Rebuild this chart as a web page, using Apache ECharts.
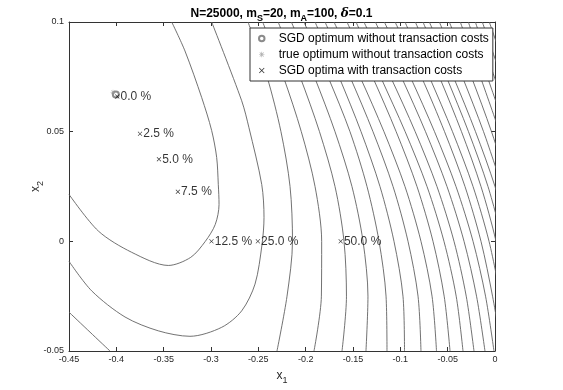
<!DOCTYPE html>
<html><head><meta charset="utf-8">
<script src="https://cdn.jsdelivr.net/npm/echarts@6/dist/echarts.min.js"></script>
<style>html,body{margin:0;padding:0;background:#fff}#c{width:563px;height:390px}</style>
</head><body><div id="c"></div>
<script>
// ---- data ----
const xTickMin = -0.45, xTickMax = 0, xTickStep = 0.05;
const yTickMin = -0.05, yTickMax = 0.1, yTickStep = 0.05;

const sgdOptimum = [[-0.4005, 0.067]];
const trueOptimum = [[-0.4035, 0.068]];
const tcOptimaX = [-0.399, -0.375, -0.355, -0.335, -0.2995, -0.2505, -0.163];
const tcOptimaY = [0.066, 0.049, 0.0374, 0.0226, 0, 0, 0];
const tcLabels = ['0.0 %', '2.5 %', '5.0 %', '7.5 %', '12.5 %', '25.0 %', '50.0 %'];

// closed-ish inner contour lines, [x1, x2] points
const contour1 = [[-0.3415,0.1],[-0.3275,0.0868],[-0.3098,0.0655],[-0.2993,0.0505],[-0.294,0.0382],[-0.2923,0.026],[-0.2915,0.0168],[-0.2955,0.0077],[-0.306,0],[-0.3214,-0.0073],[-0.3451,-0.011],[-0.3838,-0.005],[-0.419,0.0047],[-0.45,0.0214]];
const contour2 = [[-0.2993,0.1],[-0.2676,0.0641],[-0.2599,0.0518],[-0.2464,0.0259],[-0.244,0.0109],[-0.2461,-0.0014],[-0.2535,-0.0195],[-0.2676,-0.0317],[-0.2887,-0.0392],[-0.3222,-0.0433],[-0.3557,-0.0408],[-0.3908,-0.0345],[-0.426,-0.0226],[-0.45,-0.0091]];
const contour3Corner = [[-0.45,-0.0323],[-0.4278,-0.0414],[-0.4067,-0.05]];

// open contour lines: x1 where each line crosses these x2 rows
const crossRowY = [0.1, 0.075, 0.05, 0.025, 0, -0.025, -0.05];
const crossContourX = [
  [-0.2609,-0.2408,-0.2261,-0.2165,-0.2139,-0.2197,-0.2303],
  [-0.2454,-0.2235,-0.2046,-0.1901,-0.1831,-0.1834,-0.1912],
  [-0.2291,-0.2059,-0.1854,-0.169,-0.1595,-0.1569,-0.1616],
  [-0.2151,-0.1908,-0.169,-0.1511,-0.1394,-0.1342,-0.1363],
  [-0.2018,-0.1764,-0.1532,-0.1352,-0.1225,-0.1151,-0.1141],
  [-0.1901,-0.1648,-0.1415,-0.1215,-0.1067,-0.0972,-0.0956],
  [-0.1796,-0.1532,-0.1289,-0.1077,-0.0919,-0.0813,-0.0782],
  [-0.1701,-0.1426,-0.1173,-0.0951,-0.0782,-0.0665,-0.0618],
  [-0.1564,-0.1294,-0.1044,-0.0824,-0.0655,-0.0537,-0.0475],
  [-0.1468,-0.1209,-0.0949,-0.0718,-0.0539,-0.041,-0.0338],
  [-0.1385,-0.1104,-0.0843,-0.0613,-0.0433,-0.0304,-0.0222],
  [-0.1264,-0.099,-0.0734,-0.0507,-0.0327,-0.0195,-0.0106],
  [-0.1169,-0.0895,-0.0639,-0.0412,-0.0232,-0.01,-0.0011],
  [-0.1056,-0.0778,-0.0533,-0.0317,-0.0148,-0.0026,0.0074],
  [-0.0951,-0.0694,-0.0449,-0.0232,-0.0063,0.0058],
  [-0.0842,-0.0588,-0.0354,-0.0148,0.0011,0.0121],
  [-0.0761,-0.0514,-0.028,-0.0074,0.0085],
  [-0.0694,-0.044,-0.0206,0,0.0158],
  [-0.0588,-0.0345,-0.0121,0.0074],
  [-0.0483,-0.025,-0.0037,0.0148],
  [-0.0367,-0.0155,0.0048],
  [-0.0282,-0.0081,0.0121],
  [-0.0208,-0.0007,0.0195],
  [-0.0134,0.0067],
  [-0.006,0.014]
];

// ---- chart ----
const FONT = 'Liberation Sans, Arial, sans-serif';
const CROSS = 'path://M0,1L1,0L5,4L9,0L10,1L6,5L10,9L9,10L5,6L1,10L0,9L4,5Z';
const STAR = 'path://M4.4,0H5.6V4.4H10V5.6H5.6V10H4.4V5.6H0V4.4H4.4ZM1,1.8L1.8,1L5,4.2L8.2,1L9,1.8L5.8,5L9,8.2L8.2,9L5,5.8L1.8,9L1,8.2L4.2,5Z';
const lineColor = '#626262';

function contourSeries(pts) {
  return {
    type: 'line', data: pts, symbol: 'none', smooth: 0.3, silent: true,
    clip: true, z: 1, legendHoverLink: false,
    lineStyle: { color: lineColor, width: 0.9 }
  };
}
const series = [];
[contour1, contour2, contour3Corner].forEach(c => series.push(contourSeries(c)));
crossContourX.forEach(xs => series.push(contourSeries(xs.map((x, j) => [x, crossRowY[j]]))));

series.push({
  name: 'SGD optimum without transaction costs', type: 'scatter', data: sgdOptimum,
  symbol: 'circle', symbolSize: 6, z: 5,
  itemStyle: { color: '#ffffff', borderColor: '#6e6e6e', borderWidth: 2 }
});
series.push({
  name: 'true optimum without transaction costs', type: 'scatter', data: trueOptimum,
  symbol: STAR, symbolSize: 5, z: 6,
  itemStyle: { color: '#9a9a9a' }
});
series.push({
  name: 'SGD optima with transaction costs', type: 'scatter', z: 7,
  symbol: CROSS, symbolSize: 4.5,
  itemStyle: { color: '#000' },
  data: tcOptimaX.map((x, i) => ({
    value: [x, tcOptimaY[i]],
    label: { show: true, formatter: tcLabels[i], position: 'right', distance: 1,
             color: '#000', fontSize: 12, fontFamily: FONT }
  }))
});

const axisCommon = {
  type: 'value', splitLine: { show: false },
  axisLine: { show: true, onZero: false, lineStyle: { color: '#333', width: 1 } },
  axisTick: { show: true, inside: true, length: 4, lineStyle: { color: '#333' } }
};

const option = {
  animation: false,
  backgroundColor: '#fff',
  title: {
    left: 'center', top: 0,
    text: '{a|N=25000, m}{s|S}{a|=20, m}{s|A}{a|=100, }{d|δ}{a|=0.1}',
    textStyle: {
      rich: {
        a: { fontFamily: FONT, fontWeight: 'bold', fontSize: 12, color: '#000', lineHeight: 18, verticalAlign: 'middle' },
        s: { fontFamily: FONT, fontWeight: 'bold', fontSize: 9, color: '#000', lineHeight: 18, verticalAlign: 'bottom' },
        d: { fontFamily: 'DejaVu Serif, serif', fontStyle: 'italic', fontWeight: 'bold', fontSize: 12, color: '#000', lineHeight: 18, verticalAlign: 'middle' }
      }
    }
  },
  legend: {
    orient: 'vertical', left: 250, top: 28,
    padding: [3, 4, 3, 8], itemGap: 1, itemWidth: 24, itemHeight: 5.5,
    backgroundColor: '#fff', borderColor: '#333', borderWidth: 1,
    selectedMode: false, z: 10,
    textStyle: { fontFamily: FONT, fontSize: 12, color: '#000', lineHeight: 15 },
    data: ['SGD optimum without transaction costs', 'true optimum without transaction costs', 'SGD optima with transaction costs']
  },
  grid: { left: 69, right: 68, top: 22, bottom: 38 },
  xAxis: [
    Object.assign({}, axisCommon, {
      min: xTickMin, max: xTickMax, interval: xTickStep, position: 'bottom',
      axisLabel: { color: '#262626', fontSize: 9, fontFamily: FONT, margin: 4 },
      name: '{x|x}{s|1}', nameLocation: 'middle', nameGap: 16,
      nameTextStyle: { rich: {
        x: { fontFamily: FONT, fontSize: 12, color: '#262626', lineHeight: 18, verticalAlign: 'middle' },
        s: { fontFamily: FONT, fontSize: 9, color: '#262626', lineHeight: 18, verticalAlign: 'bottom' } } }
    }),
    Object.assign({}, axisCommon, {
      min: xTickMin, max: xTickMax, interval: xTickStep, position: 'top',
      axisLabel: { show: false }
    })
  ],
  yAxis: [
    Object.assign({}, axisCommon, {
      min: yTickMin, max: yTickMax, interval: yTickStep, position: 'left',
      axisLabel: { color: '#262626', fontSize: 9, fontFamily: FONT, margin: 5 },
      name: '{x|x}{s|2}', nameLocation: 'middle', nameGap: 24, nameMoveOverlap: false,
      nameTextStyle: { rich: {
        x: { fontFamily: FONT, fontSize: 12, color: '#262626', lineHeight: 18, verticalAlign: 'middle' },
        s: { fontFamily: FONT, fontSize: 9, color: '#262626', lineHeight: 18, verticalAlign: 'bottom' } } }
    }),
    Object.assign({}, axisCommon, {
      min: yTickMin, max: yTickMax, interval: yTickStep, position: 'right',
      axisLabel: { show: false }
    })
  ],
  series: series
};

const chart = echarts.init(document.getElementById('c'), null, { renderer: 'canvas' });
chart.setOption(option);
</script>
</body></html>
